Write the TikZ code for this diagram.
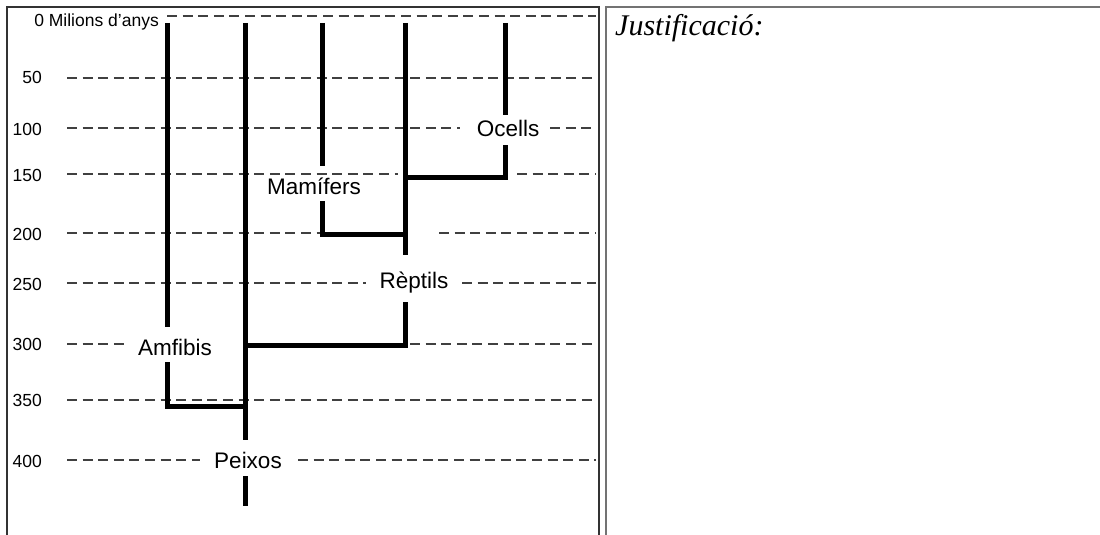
\documentclass[tikz,border=0pt]{standalone}
\usepackage{fontspec}
\setmainfont{Liberation Sans}
\newfontfamily\serifit{Liberation Serif}
\begin{document}
\begin{tikzpicture}[x=1pt,y=-1pt,
  grid/.style={draw=black!75,line width=1.6pt,dash pattern=on 10pt off 5.6pt},
  branch/.style={draw=black,line width=5pt},
  lab/.style={font=\fontsize{22.5}{24}\selectfont,inner sep=0pt,anchor=base},
  num/.style={font=\fontsize{17.5}{19}\selectfont,inner sep=0pt,anchor=base east},
  frame/.style={draw=black!80,line width=1.4pt}]
\useasboundingbox (0,0) rectangle (1100,535);
% frames
\draw[frame] (7,540) -- (7,7) -- (599,7) -- (599,540);
\draw[frame,draw=black!55] (606,540) -- (606,7) -- (1102,7);
\node[inner sep=0pt,anchor=base west,font=\serifit\itshape\fontsize{30}{32}\selectfont] (just) at (615,36) {Justificació:};

% axis labels
\node[num] (t0) at (159,27) {0 Milions d’anys};
\node[num] (t50) at (42,84) {50};
\node[num] (t100) at (42,135) {100};
\node[num] (t150) at (42,181) {150};
\node[num] (t200) at (42,240) {200};
\node[num] (t250) at (42,290) {250};
\node[num] (t300) at (42,350) {300};
\node[num] (t350) at (42,406) {350};
\node[num] (t400) at (42,467) {400};

% dashed grid lines
\draw[grid] (167,16) -- (596,16);
\draw[grid] (67,78) -- (596,78);
\draw[grid] (67,128) -- (460,128);
\draw[grid] (550,128) -- (596,128);
\draw[grid] (67,174) -- (398,174);
\draw[grid] (517,174) -- (596,174);
\draw[grid] (67,233) -- (320,233);
\draw[grid] (439,233) -- (596,233);
\draw[grid] (67,283) -- (366,283);
\draw[grid] (462,283) -- (596,283);
\draw[grid] (67,344) -- (127,344);
\draw[grid] (410,344) -- (596,344);
\draw[grid] (67,400) -- (596,400);
\draw[grid] (67,460) -- (200,460);
\draw[grid] (298,460) -- (596,460);

% taxon labels
\node[lab] (oc) at (508,136) {Ocells};
\node[lab] (ma) at (314,194) {Mamífers};
\node[lab] (re) at (414,288) {Rèptils};
\node[lab] (am) at (175,355) {Amfibis};
\node[lab] (pe) at (248,468) {Peixos};

% coordinates for branches
\coordinate (amT) at (167,23);
\coordinate (amA) at (167,327);
\coordinate (amB) at (167,362);
\coordinate (amJ) at (167,406);
\coordinate (peT) at (245,23);
\coordinate (peA) at (245,440);
\coordinate (peB) at (245,476);
\coordinate (peE) at (245,506);
\coordinate (peJ) at (245,406);
\coordinate (peR) at (245,345);
\coordinate (maT) at (322,23);
\coordinate (maA) at (322,166);
\coordinate (maB) at (322,201);
\coordinate (maJ) at (322,234);
\coordinate (reT) at (405,23);
\coordinate (reA) at (405,255);
\coordinate (reB) at (405,302);
\coordinate (reJ) at (405,345);
\coordinate (reM) at (405,234);
\coordinate (reO) at (405,177);
\coordinate (ocT) at (505,23);
\coordinate (ocA) at (505,115);
\coordinate (ocB) at (505,145);
\coordinate (ocJ) at (505,177);

% branches
\draw[branch] (amT) -- (amA);
\draw[branch] (amB) -- (amJ) -- (peJ);
\draw[branch] (peT) -- (peA);
\draw[branch] (peB) -- (peE);
\draw[branch] (peR) -- (reJ) -- (reB);
\draw[branch] (maT) -- (maA);
\draw[branch] (maB) -- (maJ) -- (reM);
\draw[branch] (reT) -- (reA);
\draw[branch] (reO) -- (ocJ) -- (ocB);
\draw[branch] (ocT) -- (ocA);
\end{tikzpicture}
\end{document}
